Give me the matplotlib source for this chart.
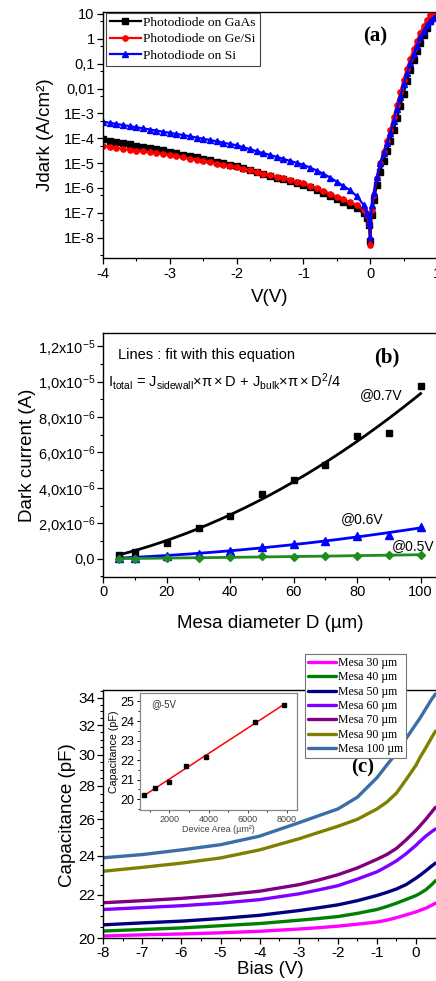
import numpy as np
import matplotlib
matplotlib.use('Agg')
import matplotlib.pyplot as plt
from matplotlib.ticker import FixedLocator, MultipleLocator, FuncFormatter, NullFormatter, FixedFormatter

plt.rcParams['font.family'] = ['Liberation Sans', 'DejaVu Sans']
plt.rcParams['mathtext.fontset'] = 'custom'
plt.rcParams['mathtext.rm'] = 'Liberation Sans'
plt.rcParams['mathtext.it'] = 'Liberation Sans'
plt.rcParams['mathtext.default'] = 'regular'
plt.rcParams['axes.unicode_minus'] = False
plt.rcParams['xtick.direction'] = 'out'
plt.rcParams['ytick.direction'] = 'out'
plt.rcParams['axes.linewidth'] = 1.0

# ---------------- Panel (a) data: dark current density (log10 of A/cm^2) ----------------
volt_a = [-4.0, -3.9, -3.8, -3.7, -3.6, -3.5, -3.4, -3.3, -3.2, -3.1,
          -3.0, -2.9, -2.8, -2.7, -2.6, -2.5, -2.4, -2.3, -2.2, -2.1,
          -2.0, -1.9, -1.8, -1.7, -1.6, -1.5, -1.4, -1.3, -1.2, -1.1,
          -1.0, -0.9, -0.8, -0.7, -0.6, -0.5, -0.4, -0.3, -0.2, -0.1,
          -0.05, -0.02, 0.0, 0.02,
          0.05, 0.1, 0.15, 0.2, 0.25, 0.3, 0.35, 0.4, 0.45, 0.5,
          0.55, 0.6, 0.65, 0.7, 0.75, 0.8, 0.85, 0.9, 0.95, 1.0]
log_j_gaas = [-4.05, -4.10, -4.15, -4.20, -4.25, -4.30, -4.35, -4.40, -4.44, -4.49,
              -4.54, -4.60, -4.66, -4.71, -4.77, -4.83, -4.89, -4.95, -5.00, -5.06,
              -5.12, -5.20, -5.27, -5.35, -5.42, -5.50, -5.58, -5.65, -5.73, -5.80,
              -5.88, -5.98, -6.08, -6.19, -6.31, -6.46, -6.57, -6.68, -6.82, -7.02,
              -7.20, -7.50, -8.15, -7.10,
              -6.50, -5.90, -5.35, -4.90, -4.50, -4.10, -3.65, -3.20, -2.70, -2.20,
              -1.70, -1.25, -0.85, -0.50, -0.15, 0.15, 0.45, 0.70, 0.92, 1.05]
log_j_gesi = [-4.31, -4.35, -4.39, -4.43, -4.46, -4.50, -4.53, -4.57, -4.60, -4.64,
              -4.67, -4.72, -4.77, -4.82, -4.87, -4.92, -4.97, -5.02, -5.07, -5.12,
              -5.17, -5.23, -5.29, -5.36, -5.42, -5.48, -5.55, -5.61, -5.68, -5.74,
              -5.81, -5.91, -6.01, -6.12, -6.23, -6.35, -6.46, -6.57, -6.70, -6.89,
              -7.10, -7.45, -8.30, -6.90,
              -6.30, -5.60, -5.00, -4.55, -4.10, -3.65, -3.15, -2.65, -2.15, -1.65,
              -1.20, -0.80, -0.42, -0.08, 0.25, 0.52, 0.75, 0.95, 1.08, 1.20]
log_j_si = [-3.33, -3.38, -3.42, -3.47, -3.51, -3.56, -3.60, -3.65, -3.69, -3.74,
            -3.78, -3.83, -3.87, -3.92, -3.97, -4.02, -4.07, -4.12, -4.18, -4.23,
            -4.28, -4.36, -4.44, -4.52, -4.60, -4.67, -4.75, -4.83, -4.91, -4.99,
            -5.07, -5.18, -5.30, -5.43, -5.58, -5.75, -5.92, -6.10, -6.33, -6.68,
            -7.00, -7.35, -7.96, -6.70,
            -6.20, -5.55, -5.00, -4.60, -4.20, -3.80, -3.30, -2.82, -2.33, -1.83,
            -1.38, -0.98, -0.62, -0.28, 0.08, 0.33, 0.56, 0.72, 0.85, 0.95]
labels_a = ['Photodiode on GaAs', 'Photodiode on Ge/Si', 'Photodiode on Si']
yticks_a = [1e-8, 1e-7, 1e-6, 1e-5, 1e-4, 1e-3, 1e-2, 1e-1, 1, 10]
yticklabels_a = ['1E-8', '1E-7', '1E-6', '1E-5', '1E-4', '1E-3', '0,01', '0,1', '1', '10']

# ---------------- Panel (b) data: dark current vs mesa diameter (x1e-6 A) ----------------
diam_b = [5, 10, 20, 30, 40, 50, 60, 70, 80, 90, 100]
i_07v = [0.21, 0.40, 0.87, 1.72, 2.43, 3.65, 4.45, 5.30, 6.95, 7.10, 9.77]
i_06v = [0.05, 0.07, 0.17, 0.26, 0.43, 0.68, 0.83, 1.00, 1.28, 1.34, 1.81]
i_05v = [0.00, 0.01, 0.02, 0.06, 0.08, 0.13, 0.12, 0.14, 0.17, 0.19, 0.24]
yticks_b = [0, 2e-6, 4e-6, 6e-6, 8e-6, 1e-5, 1.2e-5]
yticklabels_b = ['0,0', r'2,0x10$^{-6}$', r'4,0x10$^{-6}$', r'6,0x10$^{-6}$',
                 r'8,0x10$^{-6}$', r'1,0x10$^{-5}$', r'1,2x10$^{-5}$']

# ---------------- Panel (c) data: capacitance vs bias (pF) ----------------
bias_c = [-8, -7, -6, -5, -4, -3, -2.5, -2, -1.5, -1, -0.75, -0.5, -0.25, 0, 0.1, 0.25, 0.4, 0.5]
cap_30 = [20.09, 20.14, 20.18, 20.23, 20.30, 20.40, 20.46, 20.53, 20.62, 20.72, 20.80, 20.92, 21.05, 21.19, 21.26, 21.36, 21.50, 21.60]
cap_40 = [20.31, 20.38, 20.45, 20.55, 20.65, 20.80, 20.88, 20.97, 21.12, 21.30, 21.44, 21.60, 21.78, 21.97, 22.07, 22.25, 22.50, 22.70]
cap_50 = [20.59, 20.68, 20.76, 20.88, 21.03, 21.25, 21.38, 21.52, 21.72, 21.97, 22.12, 22.29, 22.51, 22.83, 22.97, 23.20, 23.45, 23.60]
cap_60 = [21.30, 21.39, 21.48, 21.60, 21.77, 22.05, 22.24, 22.45, 22.78, 23.15, 23.42, 23.72, 24.10, 24.55, 24.76, 25.05, 25.30, 25.45]
cap_70 = [21.62, 21.72, 21.83, 21.98, 22.18, 22.50, 22.73, 23.00, 23.35, 23.80, 24.05, 24.38, 24.85, 25.38, 25.62, 26.00, 26.42, 26.70]
cap_90 = [23.18, 23.38, 23.60, 23.87, 24.30, 24.90, 25.25, 25.60, 26.00, 26.60, 27.00, 27.55, 28.40, 29.30, 29.80, 30.45, 31.15, 31.60]
cap_100 = [23.88, 24.05, 24.30, 24.58, 25.05, 25.80, 26.20, 26.60, 27.30, 28.50, 29.30, 30.10, 31.10, 32.10, 32.50, 33.20, 33.90, 34.30]
labels_c = ['Mesa 30 \u00b5m', 'Mesa 40 \u00b5m', 'Mesa 50 \u00b5m', 'Mesa 60 \u00b5m',
            'Mesa 70 \u00b5m', 'Mesa 90 \u00b5m', 'Mesa 100 \u00b5m']
colors_c = ['#ff00ff', '#008000', '#000080', '#8000ff', '#800080', '#808000', '#3a6ea5']
yticks_c = [20, 22, 24, 26, 28, 30, 32, 34]

# inset: capacitance at -5 V vs device area
area_in = [707, 1257, 1963, 2827, 3848, 6362, 7854]
cap_in = [20.24, 20.55, 20.89, 21.70, 22.14, 23.94, 24.83]

# ---------------- figure ----------------
W, H = 436, 981
fig = plt.figure(figsize=(W / 100, H / 100), dpi=100)


def fx(px):
    return px / W


def fy(py):
    return 1 - py / H


def rect(l, t, r, b):
    return [l / W, 1 - b / H, (r - l) / W, (b - t) / H]


SERIF = ['Liberation Serif', 'DejaVu Serif']


def style_ticks(ax, size):
    ax.tick_params(which='major', length=4, width=0.9, labelsize=size, pad=2)
    ax.tick_params(which='minor', length=2.3, width=0.8)
    ax.tick_params(top=False, right=False)


# ---- (a)
ax1 = fig.add_axes(rect(103, 12, 437, 258.3))
ax1.set_yscale('log')
va = np.array(volt_a)
ax1.plot(va, 10.0 ** np.array(log_j_gaas), color='black', marker='s', ms=3.8, lw=1.6,
         label=labels_a[0])
ax1.plot(va, 10.0 ** np.array(log_j_gesi), color='#ff0000', marker='o', ms=3.8, lw=1.6,
         label=labels_a[1])
ax1.plot(va, 10.0 ** np.array(log_j_si), color='#0000ff', marker='^', ms=4.2, lw=1.6,
         label=labels_a[2])
ax1.set_xlim(-4, 1.0)
ax1.set_ylim(1.48e-9, 12)
ax1.yaxis.set_major_locator(FixedLocator(yticks_a))
ax1.yaxis.set_major_formatter(FixedFormatter(yticklabels_a))
ax1.yaxis.set_minor_locator(FixedLocator([5 * t for t in yticks_a[:-1]] + [2e-9]))
ax1.yaxis.set_minor_formatter(NullFormatter())
ax1.xaxis.set_major_locator(MultipleLocator(1))
ax1.xaxis.set_minor_locator(MultipleLocator(0.5))
style_ticks(ax1, 10.5)
ax1.spines['right'].set_visible(False)
leg1 = ax1.legend(loc='upper left', bbox_to_anchor=(fx(105.5), fy(12.5)),
                  bbox_transform=fig.transFigure, prop={'family': SERIF, 'size': 9.7},
                  frameon=True, fancybox=False, borderpad=0.3, labelspacing=0.3,
                  handlelength=2.3, handletextpad=0.2, borderaxespad=0, framealpha=1)
leg1.get_frame().set_edgecolor('#444444')
leg1.get_frame().set_linewidth(0.8)
fig.text(fx(375), fy(36), '(a)', family=SERIF, weight='bold', size=15, ha='center', va='center')
fig.text(fx(270), fy(297), 'V(V)', size=13.5, ha='center', va='center')
fig.text(fx(45), fy(135), 'Jdark (A/cm\u00b2)', size=13.5, ha='center', va='center', rotation=90)

# ---- (b)
ax2 = fig.add_axes(rect(103.3, 333.3, 436.5, 577))
db = np.array(diam_b, dtype=float)
d_fit = np.linspace(min(diam_b), max(diam_b), 200)
series_b = [(i_07v, 'black', 's', 5.0), (i_06v, '#0000ff', '^', 5.5), (i_05v, '#1e8c1e', 'D', 4.2)]
for vals, col, mk, ms in series_b:
    iv = np.array(vals) * 1e-6
    A = np.column_stack([db, db ** 2])
    coef, *_ = np.linalg.lstsq(A, iv, rcond=None)
    ax2.plot(d_fit, coef[0] * d_fit + coef[1] * d_fit ** 2, color=col, lw=2.0, zorder=2)
    ax2.plot(db, iv, ls='none', marker=mk, ms=ms, color=col, zorder=3)
ax2.set_xlim(0, 105)
ax2.set_ylim(-1.03e-6, 1.273e-5)
ax2.xaxis.set_major_locator(MultipleLocator(20))
ax2.xaxis.set_minor_locator(MultipleLocator(10))
ax2.yaxis.set_major_locator(FixedLocator(yticks_b))
ax2.yaxis.set_major_formatter(FixedFormatter(yticklabels_b))
ax2.yaxis.set_minor_locator(MultipleLocator(1e-6))
style_ticks(ax2, 10.5)
ax2.spines['right'].set_visible(False)
fig.text(fx(118), fy(355), 'Lines : fit with this equation', size=10.5, ha='left', va='center')
fig.text(fx(108), fy(382),
         r'I$_{total}$ = J$_{sidewall}$$\times\pi\times$D + J$_{bulk}$$\times\pi\times$D$^{2}$/4',
         size=10.5, ha='left', va='center')
fig.text(fx(387), fy(357), '(b)', family=SERIF, weight='bold', size=15, ha='center', va='center')
fig.text(fx(381), fy(395), '@0.7V', size=10, ha='center', va='center')
fig.text(fx(362), fy(519), '@0.6V', size=10, ha='center', va='center')
fig.text(fx(413), fy(546), '@0.5V', size=10, ha='center', va='center')
fig.text(fx(270), fy(623), 'Mesa diameter D (\u00b5m)', size=13.5, ha='center', va='center')
fig.text(fx(27), fy(455), 'Dark current (A)', size=13.5, ha='center', va='center', rotation=90)

# ---- (c)
ax3 = fig.add_axes(rect(103.3, 690, 436.5, 938))
ax3.set_yscale('log')
handles = []
for vals, col, lab in zip([cap_30, cap_40, cap_50, cap_60, cap_70, cap_90, cap_100], colors_c, labels_c):
    h, = ax3.plot(bias_c, vals, color=col, lw=2.4, label=lab, solid_capstyle='round',
                  solid_joinstyle='round')
    handles.append(h)
ax3.set_xlim(-8, 0.524)
ax3.set_ylim(20, 34.6)
ax3.yaxis.set_major_locator(FixedLocator(yticks_c))
ax3.yaxis.set_major_formatter(FuncFormatter(lambda v, p: '%d' % round(v)))
ax3.yaxis.set_minor_locator(FixedLocator([y + 0.5 * k for y in yticks_c for k in (1, 2, 3)]))
ax3.yaxis.set_minor_formatter(NullFormatter())
ax3.xaxis.set_major_locator(MultipleLocator(1))
ax3.xaxis.set_minor_locator(MultipleLocator(0.5))
style_ticks(ax3, 11)
ax3.spines['right'].set_visible(False)
leg3 = fig.legend(handles=handles, labels=labels_c, loc='upper left',
                  bbox_to_anchor=(fx(305), fy(654)), bbox_transform=fig.transFigure,
                  prop={'family': SERIF, 'size': 8.5}, frameon=True, fancybox=False,
                  borderpad=0.25, labelspacing=0.2, handlelength=2.4, handletextpad=0.15,
                  borderaxespad=0, framealpha=1)
leg3.get_frame().set_edgecolor('#777777')
leg3.get_frame().set_linewidth(0.8)
fig.text(fx(363), fy(767), '(c)', family=SERIF, weight='bold', size=15, ha='center', va='center')
fig.text(fx(270), fy(970), 'Bias (V)', size=13.5, ha='center', va='center')
fig.text(fx(67), fy(815), 'Capacitance (pF)', size=13.5, ha='center', va='center', rotation=90)

# ---- inset
axi = fig.add_axes(rect(140, 692.7, 296.7, 810))
ai = np.array(area_in, dtype=float)
ci = np.array(cap_in)
p = np.polyfit(ai, ci, 1)
a_line = np.array([ai.min(), ai.max()])
axi.plot(a_line, np.polyval(p, a_line), color='#ff0000', lw=1.1, zorder=2)
axi.plot(ai, ci, ls='none', marker='s', ms=3.2, color='black', zorder=3)
axi.set_xlim(500, 8500)
axi.set_ylim(19.45, 25.45)
axi.xaxis.set_major_locator(FixedLocator([2000, 4000, 6000, 8000]))
axi.xaxis.set_minor_locator(MultipleLocator(1000))
axi.yaxis.set_major_locator(MultipleLocator(1))
axi.yaxis.set_minor_locator(MultipleLocator(0.5))
axi.tick_params(axis='x', which='major', length=2.5, width=0.7, labelsize=6.5, pad=1, colors='#444444')
axi.tick_params(axis='y', which='major', length=2.5, width=0.7, labelsize=9, pad=1.5)
axi.tick_params(which='minor', length=1.5, width=0.6)
for s in axi.spines.values():
    s.set_color('#888888')
    s.set_linewidth(0.9)
axi.set_xlabel('Device Area (\u00b5m\u00b2)', size=6.5, labelpad=0.5, color='#444444')
axi.set_ylabel('Capacitance (pF)', size=7.7, labelpad=1)
axi.text(0.153, 0.9, '@-5V', transform=axi.transAxes, size=7, ha='center', va='center', color='#333333')

fig.savefig('out.png', dpi=100)
